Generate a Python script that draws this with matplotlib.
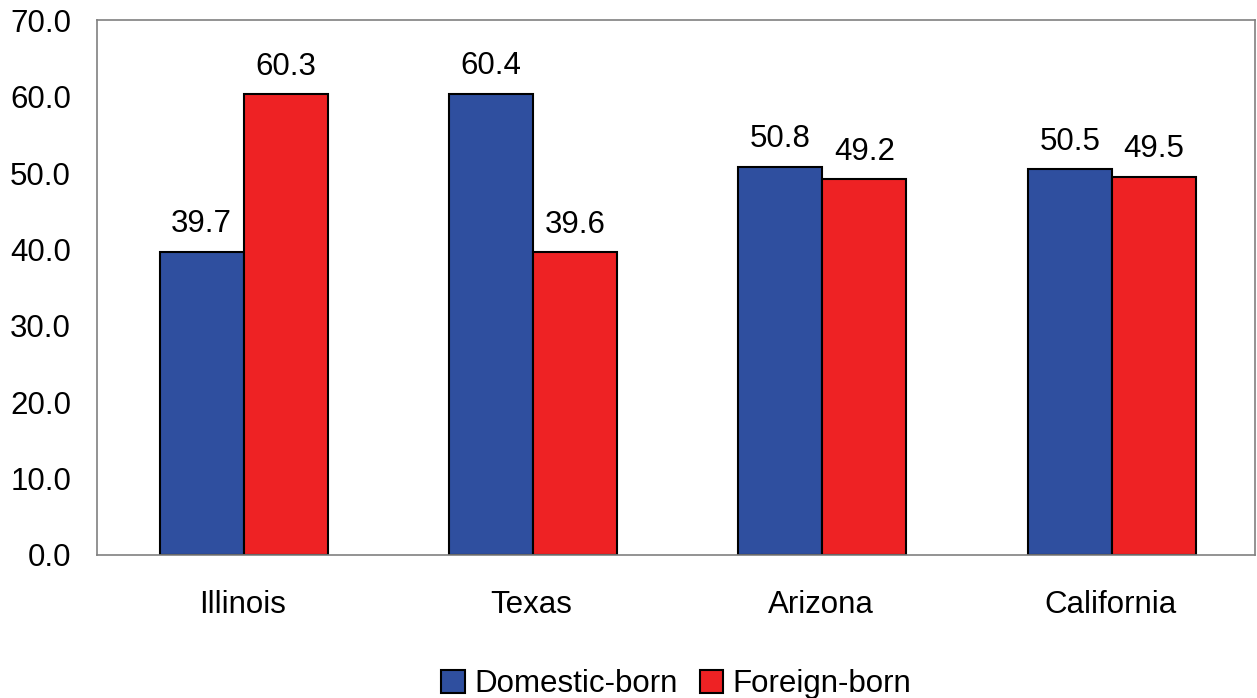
import matplotlib
matplotlib.use("Agg")
import matplotlib.pyplot as plt
import numpy as np

categories = ["Illinois", "Texas", "Arizona", "California"]
domestic = [39.7, 60.4, 50.8, 50.5]
foreign = [60.3, 39.6, 49.2, 49.5]
yticks = [0, 10, 20, 30, 40, 50, 60, 70]

plt.rcParams['font.family'] = ['Liberation Sans', 'DejaVu Sans']
FS = 22.5

fig = plt.figure(figsize=(12.57, 6.98), dpi=100)
ax = fig.add_axes([0.0775, 0.205, 0.921, 0.766])

x = np.arange(len(categories))
w = 0.29
b1 = ax.bar(x - w/2 + 0.005, domestic, w, color='#2F4F9F', edgecolor='black', linewidth=1.5, label='Domestic-born')
b2 = ax.bar(x + w/2 + 0.005, foreign, w, color='#EE2224', edgecolor='black', linewidth=1.5, label='Foreign-born')

for bars, vals in ((b1, domestic), (b2, foreign)):
    for r, v in zip(bars, vals):
        ax.annotate(f"{v:.1f}", (r.get_x() + r.get_width()/2, v), xytext=(0, 9),
                    textcoords='offset points', ha='center', va='bottom', fontsize=FS)

ax.set_xlim(-0.5, len(categories) - 0.5)
ax.set_ylim(0, 70)
ax.set_yticks(yticks)
ax.set_yticklabels([f"{t:.1f}" for t in yticks], fontsize=FS)
ax.set_xticks(x)
ax.set_xticklabels(categories, fontsize=FS)
ax.tick_params(axis='y', length=0, pad=19)
ax.tick_params(axis='x', length=0, pad=25)
for s in ax.spines.values():
    s.set_color('#808080')
    s.set_linewidth(1.2)

ax.legend(loc='lower center', bbox_to_anchor=(0.5, -0.293), ncol=2, frameon=False,
          fontsize=FS, handlelength=0.75, handleheight=0.75, handletextpad=0.3, columnspacing=0.7,
          borderaxespad=0)

fig.savefig("out.png", dpi=100)
